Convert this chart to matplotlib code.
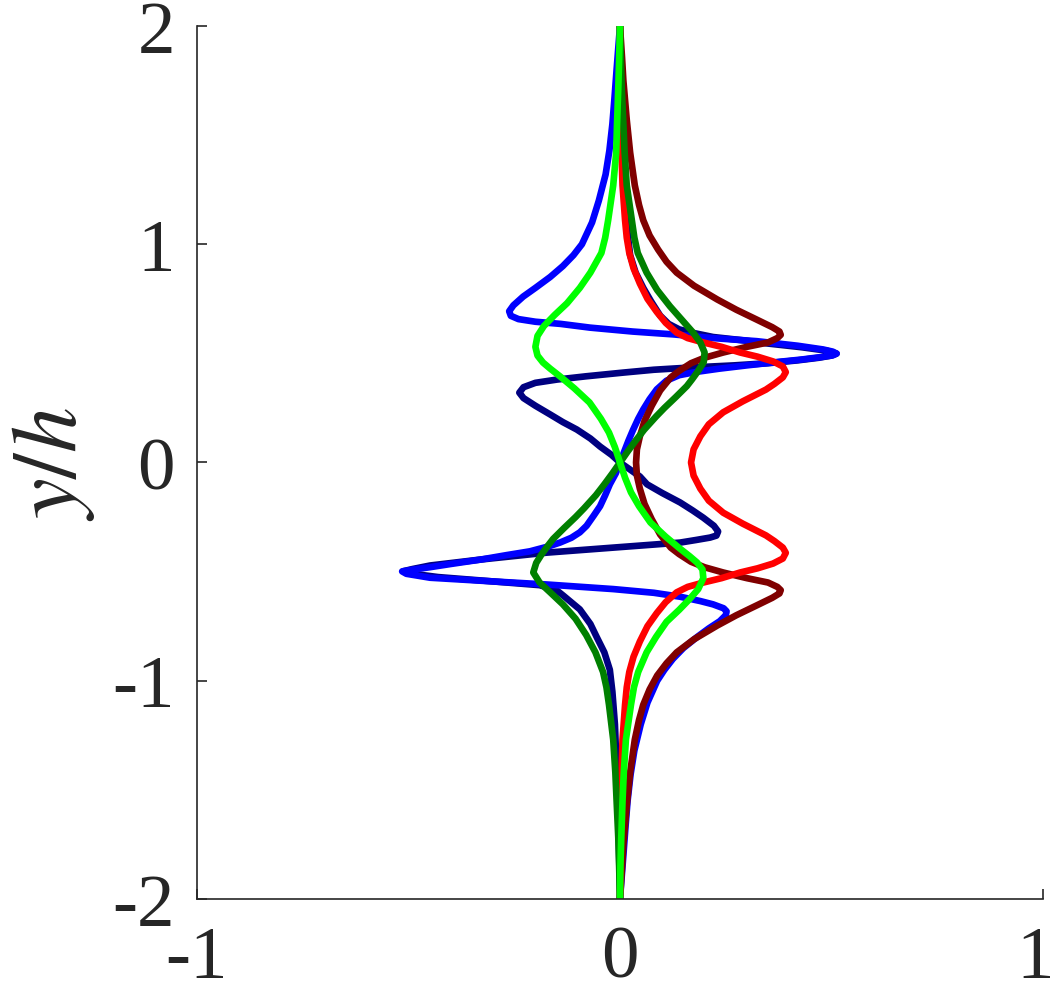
import numpy as np
import matplotlib
matplotlib.use("Agg")
import matplotlib.pyplot as plt
import matplotlib.transforms as mtransforms

plt.rcParams['font.family'] = ['Liberation Serif', 'DejaVu Serif']
plt.rcParams['mathtext.fontset'] = 'stix'
plt.rcParams['axes.unicode_minus'] = False

# profiles, listed from y/h = 2 down to y/h = -2
navy_y = [2.0, 1.8, 1.6, 1.4, 1.2, 1.05, 0.95, 0.87, 0.8, 0.74, 0.673, 0.635, 0.61,
          0.595, 0.575, 0.56, 0.545, 0.528, 0.512, 0.499, 0.49, 0.48, 0.468, 0.455,
          0.445, 0.435, 0.425, 0.412, 0.395, 0.38, 0.365, 0.345, 0.32, 0.295, 0.26,
          0.22, 0.185, 0.151, 0.11, 0.073, 0.035, 0.0,
          -0.064, -0.1, -0.14, -0.183, -0.22, -0.253, -0.29, -0.316, -0.335, -0.344,
          -0.355, -0.367, -0.39, -0.413, -0.445, -0.472, -0.488, -0.498, -0.51, -0.525,
          -0.545, -0.562, -0.585, -0.61, -0.673, -0.74, -0.8, -0.87, -0.95, -1.05,
          -1.2, -1.4, -1.6, -1.8, -2.0]
navy_x = [0.0, 0.002, 0.004, 0.008, 0.012, 0.018, 0.024, 0.037, 0.055, 0.073, 0.095, 0.115, 0.14,
          0.17, 0.22, 0.29, 0.35, 0.43, 0.49, 0.512, 0.50, 0.47, 0.42, 0.35,
          0.27, 0.165, 0.08, 0.008, -0.08, -0.149, -0.2, -0.228, -0.238, -0.228, -0.2,
          -0.165, -0.135, -0.102, -0.07, -0.047, -0.02, 0.0,
          0.047, 0.064, 0.1, 0.142, 0.172, 0.197, 0.222, 0.232, 0.228, 0.213,
          0.18, 0.142, -0.016, -0.173, -0.331, -0.449, -0.49, -0.512, -0.49, -0.43,
          -0.3, -0.19, -0.15, -0.134, -0.095, -0.07, -0.055, -0.037, -0.024, -0.018,
          -0.012, -0.008, -0.004, -0.002, 0.0]

blue_y = [2.0, 1.9, 1.8, 1.67, 1.55, 1.43, 1.32, 1.2, 1.1, 1.0, 0.95, 0.9, 0.85, 0.8,
          0.76, 0.72, 0.693, 0.672, 0.657, 0.645, 0.635, 0.618, 0.60, 0.587, 0.57,
          0.556, 0.535, 0.518, 0.508, 0.499, 0.491, 0.483, 0.472, 0.46, 0.445, 0.43,
          0.415, 0.40, 0.375, 0.335, 0.29, 0.243, 0.2, 0.15, 0.1, 0.05, 0.0,
          -0.05, -0.1, -0.15, -0.2, -0.243, -0.29, -0.32, -0.345, -0.367, -0.385,
          -0.407, -0.425, -0.445, -0.465, -0.48, -0.491, -0.499, -0.51, -0.528, -0.545,
          -0.559, -0.58, -0.597, -0.615, -0.635, -0.65, -0.668, -0.682, -0.70, -0.727,
          -0.76, -0.8, -0.85, -0.9, -0.95, -1.0, -1.1, -1.2, -1.32, -1.43, -1.55,
          -1.67, -1.8, -1.9, -2.0]
blue_x = [0.0, -0.004, -0.008, -0.013, -0.018, -0.025, -0.034, -0.05, -0.066, -0.09, -0.11, -0.135, -0.165, -0.2,
          -0.229, -0.252, -0.262, -0.258, -0.24, -0.2, -0.14, -0.071, 0.03, 0.126, 0.22,
          0.323, 0.42, 0.48, 0.503, 0.512, 0.503, 0.475, 0.43, 0.37, 0.30, 0.235,
          0.18, 0.14, 0.11, 0.087, 0.07, 0.055, 0.043, 0.031, 0.02, 0.01, 0.0,
          -0.01, -0.024, -0.035, -0.047, -0.062, -0.079, -0.095, -0.115, -0.142, -0.17,
          -0.213, -0.27, -0.33, -0.40, -0.45, -0.49, -0.515, -0.505, -0.449, -0.3,
          -0.173, -0.016, 0.08, 0.142, 0.19, 0.22, 0.245, 0.252, 0.25, 0.236,
          0.21, 0.182, 0.15, 0.125, 0.105, 0.088, 0.065, 0.049, 0.034, 0.025, 0.018,
          0.013, 0.008, 0.004, 0.0]

maroon_y = [2.0, 1.85, 1.75, 1.57, 1.42, 1.27, 1.18, 1.11, 1.04, 0.976, 0.92, 0.87,
            0.81, 0.747, 0.7, 0.655, 0.62, 0.6, 0.585, 0.57, 0.55, 0.53, 0.504, 0.48,
            0.455, 0.42, 0.39, 0.33, 0.26, 0.19, 0.12, 0.06, 0.0,
            -0.06, -0.12, -0.19, -0.26, -0.33, -0.39, -0.42, -0.455, -0.48, -0.504,
            -0.53, -0.55, -0.57, -0.585, -0.6, -0.62, -0.655, -0.7, -0.747, -0.81,
            -0.87, -0.92, -0.976, -1.04, -1.11, -1.18, -1.27, -1.42, -1.57, -1.75,
            -1.85, -2.0]
maroon_x = [0.0, 0.005, 0.008, 0.016, 0.024, 0.035, 0.045, 0.055, 0.07, 0.09, 0.11, 0.134,
            0.175, 0.23, 0.275, 0.323, 0.36, 0.377, 0.38, 0.372, 0.35, 0.3, 0.244, 0.2,
            0.168, 0.14, 0.12, 0.095, 0.075, 0.058, 0.047, 0.04, 0.038,
            0.04, 0.047, 0.058, 0.075, 0.095, 0.12, 0.14, 0.168, 0.2, 0.244,
            0.3, 0.35, 0.372, 0.38, 0.377, 0.36, 0.323, 0.275, 0.23, 0.175,
            0.134, 0.11, 0.088, 0.07, 0.055, 0.045, 0.035, 0.024, 0.016, 0.008,
            0.005, 0.0]

red_y = [2.0, 1.6, 1.4, 1.27, 1.11, 1.03, 0.96, 0.89, 0.82, 0.75, 0.69, 0.64, 0.595,
         0.57, 0.55, 0.53, 0.504, 0.485, 0.463, 0.44, 0.414, 0.39, 0.36, 0.334, 0.28,
         0.23, 0.175, 0.12, 0.06, 0.0,
         -0.06, -0.12, -0.175, -0.23, -0.28, -0.334, -0.36, -0.39, -0.414, -0.44,
         -0.463, -0.485, -0.504, -0.53, -0.55, -0.57, -0.595, -0.64, -0.69, -0.75,
         -0.82, -0.89, -0.96, -1.03, -1.11, -1.27, -1.4, -1.6, -2.0]
red_x = [0.0, 0.002, 0.004, 0.006, 0.012, 0.016, 0.022, 0.032, 0.047, 0.065, 0.087, 0.108, 0.134,
         0.16, 0.197, 0.24, 0.284, 0.325, 0.362, 0.385, 0.392, 0.385, 0.365, 0.345, 0.29,
         0.244, 0.21, 0.19, 0.174, 0.168,
         0.174, 0.19, 0.21, 0.244, 0.29, 0.345, 0.365, 0.385, 0.392, 0.385,
         0.362, 0.325, 0.284, 0.24, 0.197, 0.16, 0.134, 0.108, 0.087, 0.065,
         0.047, 0.032, 0.022, 0.016, 0.012, 0.006, 0.004, 0.002, 0.0]

dkgreen_y = [2.0, 1.85, 1.72, 1.55, 1.42, 1.27, 1.11, 1.03, 0.96, 0.87, 0.79, 0.716,
             0.65, 0.595, 0.55, 0.504, 0.46, 0.42, 0.38, 0.35, 0.3, 0.25, 0.21, 0.15,
             0.1, 0.05, 0.0,
             -0.05, -0.1, -0.15, -0.21, -0.25, -0.3, -0.35, -0.38, -0.42, -0.46,
             -0.504, -0.55, -0.595, -0.65, -0.716, -0.79, -0.87, -0.96, -1.03, -1.11,
             -1.27, -1.42, -1.55, -1.72, -1.85, -2.0]
dkgreen_x = [0.0, 0.002, 0.004, 0.008, 0.011, 0.016, 0.028, 0.034, 0.042, 0.063, 0.088, 0.118,
             0.148, 0.173, 0.19, 0.2, 0.198, 0.185, 0.17, 0.158, 0.132, 0.105, 0.085, 0.057,
             0.037, 0.018, 0.0,
             -0.018, -0.037, -0.057, -0.085, -0.105, -0.132, -0.158, -0.17, -0.185, -0.198,
             -0.205, -0.19, -0.165, -0.135, -0.105, -0.08, -0.058, -0.04, -0.032, -0.026,
             -0.016, -0.011, -0.008, -0.004, -0.002, 0.0]

lime_y = [2.0, 1.85, 1.72, 1.55, 1.42, 1.27, 1.11, 1.03, 0.96, 0.87, 0.8, 0.73, 0.675,
          0.625, 0.58, 0.53, 0.49, 0.458, 0.43, 0.395, 0.34, 0.275, 0.2, 0.137, 0.07, 0.0,
          -0.07, -0.137, -0.2, -0.275, -0.34, -0.395, -0.43, -0.458, -0.49, -0.53,
          -0.58, -0.625, -0.675, -0.73, -0.8, -0.87, -0.96, -1.03, -1.11, -1.27,
          -1.42, -1.55, -1.72, -1.85, -2.0]
lime_x = [0.0, -0.002, -0.004, -0.007, -0.009, -0.016, -0.028, -0.035, -0.044, -0.07, -0.095, -0.125, -0.155,
          -0.18, -0.195, -0.2, -0.195, -0.182, -0.165, -0.142, -0.108, -0.072, -0.045, -0.026, -0.012, 0.0,
          0.012, 0.026, 0.045, 0.072, 0.108, 0.142, 0.165, 0.182, 0.195, 0.197,
          0.185, 0.165, 0.14, 0.11, 0.085, 0.063, 0.043, 0.033, 0.026, 0.014,
          0.009, 0.006, 0.003, 0.001, 0.0]

curves = [(navy_x, navy_y, (0, 0, 0.5)),
          (blue_x, blue_y, (0, 0, 1)),
          (maroon_x, maroon_y, (0.5, 0, 0)),
          (red_x, red_y, (1, 0, 0)),
          (dkgreen_x, dkgreen_y, (0, 0.5, 0)),
          (lime_x, lime_y, (0, 1, 0))]

fig = plt.figure(figsize=(10.58, 10.04), dpi=100)
ax = fig.add_axes([0.1862, 0.1036, 0.7996, 0.8695])

for X, Y, c in curves:
    ax.plot(X, Y, color=c, lw=4.8, solid_joinstyle='round', solid_capstyle='butt')

ax.set_xlim(-1, 1)
ax.set_ylim(-2, 2)
ax.set_xticks([-1, 0, 1])
ax.set_yticks([-2, -1, 0, 1, 2])
ax.spines['top'].set_visible(False)
ax.spines['right'].set_visible(False)
for s in ['left', 'bottom']:
    ax.spines[s].set_color('#262626')
    ax.spines[s].set_linewidth(1.2)
ax.tick_params(direction='in', length=7, width=1.2, color='#262626',
               labelsize=54, labelcolor='#262626')
ax.tick_params(axis='x', pad=19)
ax.tick_params(axis='y', pad=16)
ax.set_ylabel('$y/h$', fontsize=66, color='#262626')
ax.yaxis.set_label_coords(-0.118, 0.5)

# keep the last x tick label inside the figure edge
lbl = ax.get_xticklabels()[-1]
lbl.set_transform(lbl.get_transform() + mtransforms.ScaledTranslation(-6 / 72, 0, fig.dpi_scale_trans))

fig.savefig('out.png', dpi=100)
